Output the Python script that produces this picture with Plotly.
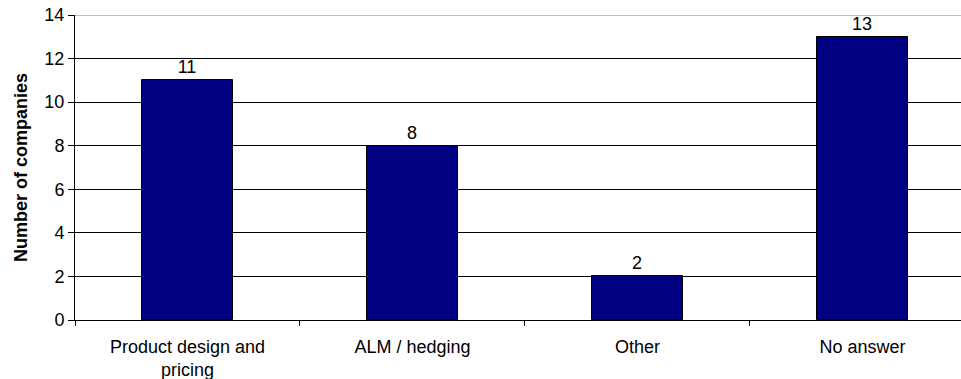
import plotly.graph_objects as go

categories = ["Product design and<br>pricing", "ALM / hedging", "Other", "No answer"]
values = [11, 8, 2, 13]
y_ticks = [0, 2, 4, 6, 8, 10, 12, 14]

font = "Liberation Sans, Arial, sans-serif"

fig = go.Figure(go.Bar(
    x=categories, y=values,
    marker=dict(color="#000080", line=dict(color="#000000", width=1)),
    width=0.405,
    text=[str(v) for v in values], textposition="outside",
    textfont=dict(family=font, size=18, color="#000000"),
    cliponaxis=False,
))

fig.update_layout(
    width=961, height=379,
    margin=dict(l=75, r=0, t=15, b=59),
    paper_bgcolor="white", plot_bgcolor="white",
    showlegend=False,
    font=dict(family=font, size=18, color="#000000"),
    bargap=0,
)
fig.update_xaxes(
    type="category", range=[-0.5, 3.438],
    showline=True, linecolor="#000000", linewidth=1,
    ticks="outside", tickson="boundaries", ticklen=5, tickcolor="#000000",
    showgrid=False, tickfont=dict(family=font, size=18),
    ticklabelstandoff=10,
)
fig.update_yaxes(
    range=[0, 14], tickvals=y_ticks,
    showline=True, linecolor="#000000", linewidth=1,
    ticks="outside", ticklen=6, tickcolor="#000000",
    showgrid=True, gridcolor="#000000", gridwidth=1,
    zeroline=False,
    tickfont=dict(family=font, size=18),
    title=dict(text="<b>Number of companies</b>", font=dict(family=font, size=18), standoff=12),
)
fig.add_shape(type="line", xref="paper", yref="y", x0=0, x1=1, y0=14, y1=14,
              line=dict(color="#808080", width=1), layer="above")

fig.write_html("out.html")
